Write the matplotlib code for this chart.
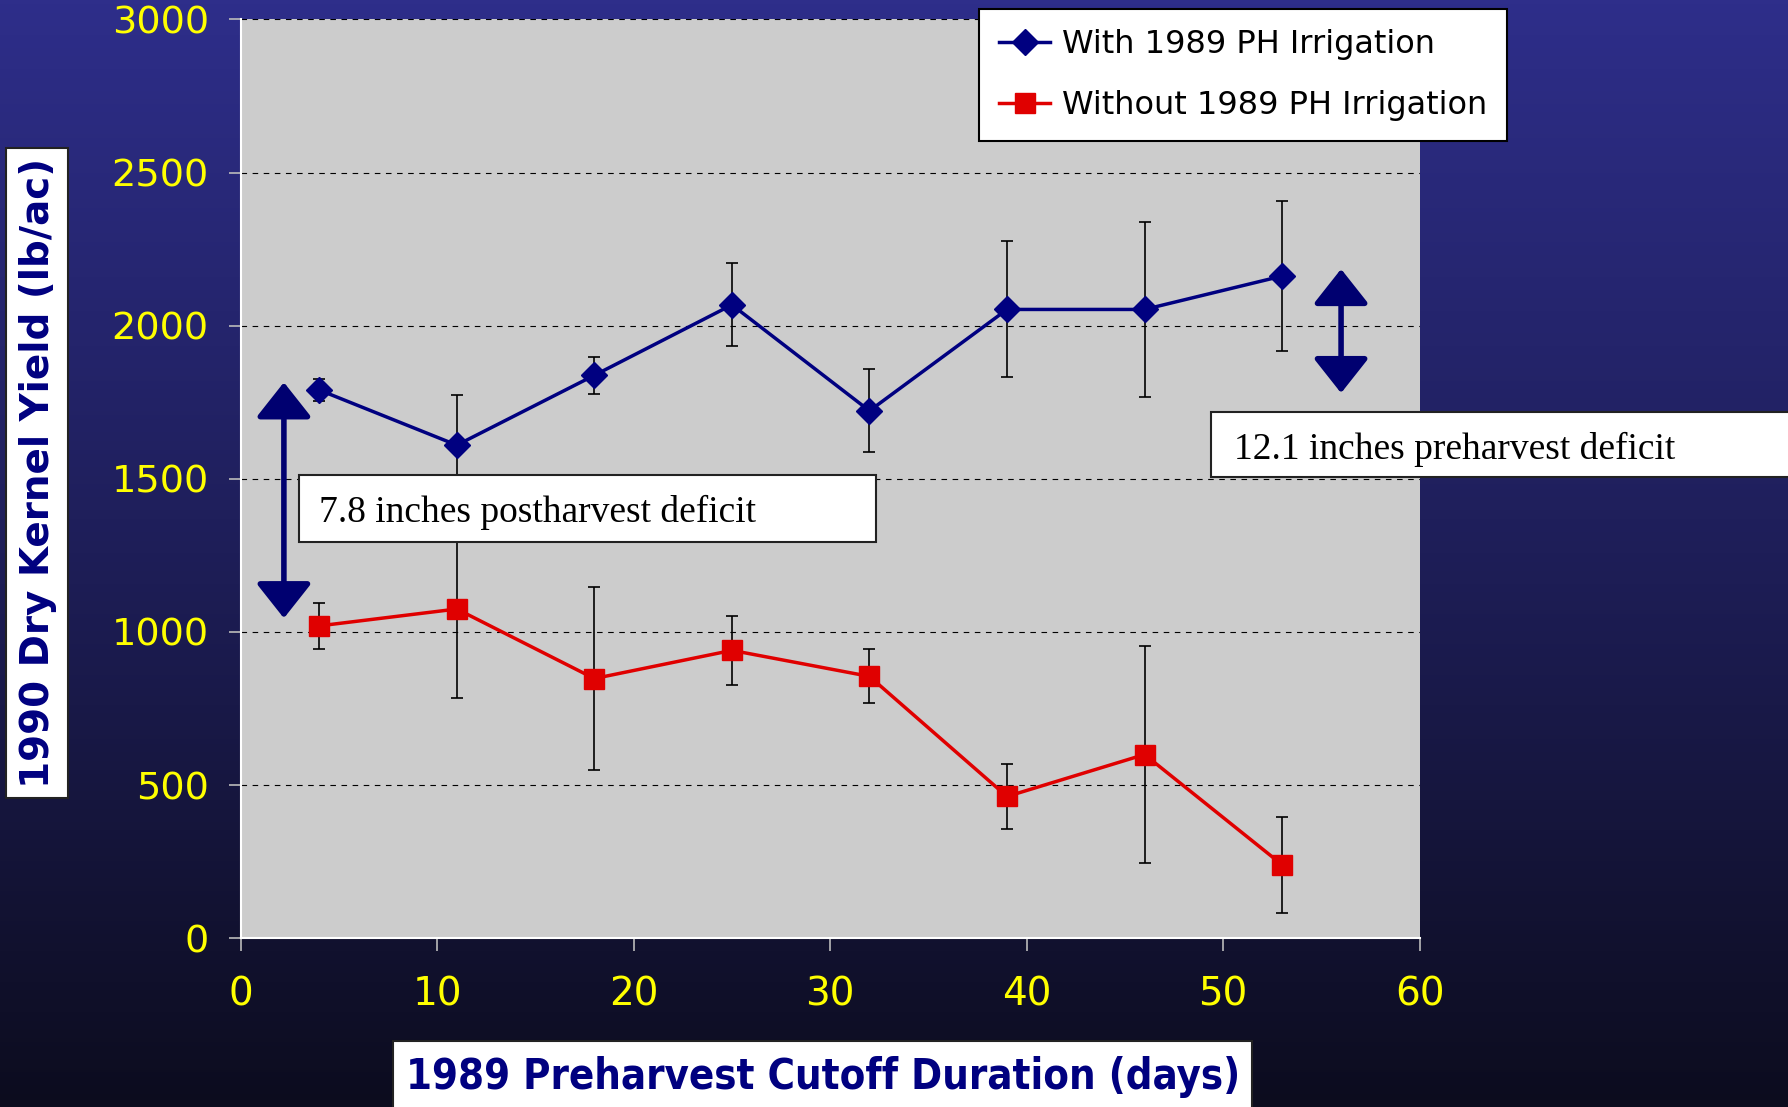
import matplotlib
matplotlib.use("Agg")
import matplotlib.pyplot as plt
import numpy as np
from matplotlib.patches import Rectangle, FancyArrowPatch
from matplotlib.colors import LinearSegmentedColormap

# cutoff duration (days)
days = [4, 11, 18, 25, 32, 39, 46, 53]

# 1990 dry kernel yield (lb/ac)
with_ph = [1790, 1610, 1838, 2068, 1722, 2053, 2053, 2162]
with_err = [35, 165, 60, 135, 135, 222, 285, 245]
without_ph = [1020, 1075, 848, 940, 855, 463, 600, 240]
without_err = [75, 290, 300, 112, 88, 106, 355, 156]

# double arrows showing deficits
post_arrow = (2.2, 1045, 1815)
pre_arrow = (56.0, 1780, 2185)

fig = plt.figure(figsize=(17.88, 11.07), dpi=100)

# background gradient
bg = fig.add_axes([0, 0, 1, 1], zorder=-10)
cmap = LinearSegmentedColormap.from_list("bg", ["#2e2e8a", "#1e1e58", "#0c0c1e"])
grad = np.linspace(0, 1, 256).reshape(-1, 1)
bg.imshow(grad, aspect="auto", cmap=cmap, extent=[0, 1, 0, 1])
bg.set_axis_off()

ax = fig.add_axes([0.1346, 0.1524, 0.6594, 0.8301])
ax.set_facecolor("#cccccc")

ax.errorbar(days, with_ph, yerr=with_err, fmt="none", ecolor="black",
            elinewidth=1.2, capsize=4.5, capthick=1.2, zorder=3)
ax.errorbar(days, without_ph, yerr=without_err, fmt="none", ecolor="black",
            elinewidth=1.2, capsize=4.5, capthick=1.2, zorder=3)
ax.plot(days, with_ph, color="#000080", lw=2.5, marker="D", markersize=13,
        label="With 1989 PH Irrigation", zorder=4)
ax.plot(days, without_ph, color="#e00000", lw=2.5, marker="s", markersize=15,
        label="Without 1989 PH Irrigation", zorder=4)

for x, y0, y1 in (post_arrow, pre_arrow):
    arr = FancyArrowPatch((x, y0), (x, y1),
                          arrowstyle="<|-|>,head_length=21.5,head_width=17",
                          mutation_scale=1, lw=4, color="#000070",
                          shrinkA=0, shrinkB=0, zorder=5)
    ax.add_patch(arr)

ax.set_xlim(0, 60)
ax.set_ylim(0, 3000)
ax.set_xticks(range(0, 61, 10))
ax.set_yticks(range(0, 3001, 500))
ax.grid(axis="y", color="black", linestyle=(0, (5, 5)), linewidth=0.8)
ax.set_axisbelow(True)

for s in ["top", "right"]:
    ax.spines[s].set_visible(False)
for s in ["left", "bottom"]:
    ax.spines[s].set_color("white")
    ax.spines[s].set_linewidth(1.5)

ax.tick_params(axis="y", colors="#bbbbbb", length=9, width=1.2, pad=14,
               labelcolor="#ffff00", labelsize=27.5)
ax.tick_params(axis="x", colors="#bbbbbb", length=9, width=1.2, pad=18,
               labelcolor="#ffff00", labelsize=28)

leg = ax.legend(loc="upper left", bbox_to_anchor=(0.5478, 0.9918),
                bbox_transform=fig.transFigure, fontsize=23, frameon=True,
                fancybox=False, edgecolor="black", framealpha=1,
                handlelength=1.6, handletextpad=0.35, labelspacing=0.95,
                borderpad=0.62, borderaxespad=0)
leg.get_frame().set_linewidth(1.5)
leg.set_zorder(10)

# annotation boxes
def box_text(x0, y0, w, h, tx, ty, s):
    fig.patches.append(Rectangle((x0, y0), w, h, transform=fig.transFigure,
                                 facecolor="white", edgecolor="#222222",
                                 lw=1.5, zorder=20))
    fig.text(tx, ty, s, fontsize=27, family="Liberation Serif", color="black",
             va="center", ha="left", zorder=21)

box_text(0.1671, 0.5108, 0.3227, 0.0597, 0.1786, 0.5367,
         "7.8 inches postharvest deficit")
box_text(0.6773, 0.5695, 0.3300, 0.0587, 0.690, 0.5944,
         "12.1 inches preharvest deficit")

# axis label boxes
fig.patches.append(Rectangle((0.0032, 0.2791), 0.0351, 0.5870,
                             transform=fig.transFigure, facecolor="white",
                             edgecolor="#222222", lw=1.5, zorder=20))
fig.text(0.0210, 0.5726, "1990 Dry Kernel Yield (lb/ac)", rotation=90,
         fontsize=28, fontweight="bold", color="#000080",
         ha="center", va="center", zorder=21)

fig.patches.append(Rectangle((0.2200, -0.01), 0.4803, 0.0697,
                             transform=fig.transFigure, facecolor="white",
                             edgecolor="#222222", lw=1.5, zorder=20))
fig.text(0.4601, 0.0270, "1989 Preharvest Cutoff Duration (days)",
         fontsize=30, fontweight="bold", fontstretch="condensed",
         color="#000080", ha="center", va="center", zorder=21)

fig.savefig("out.png", dpi=100)
